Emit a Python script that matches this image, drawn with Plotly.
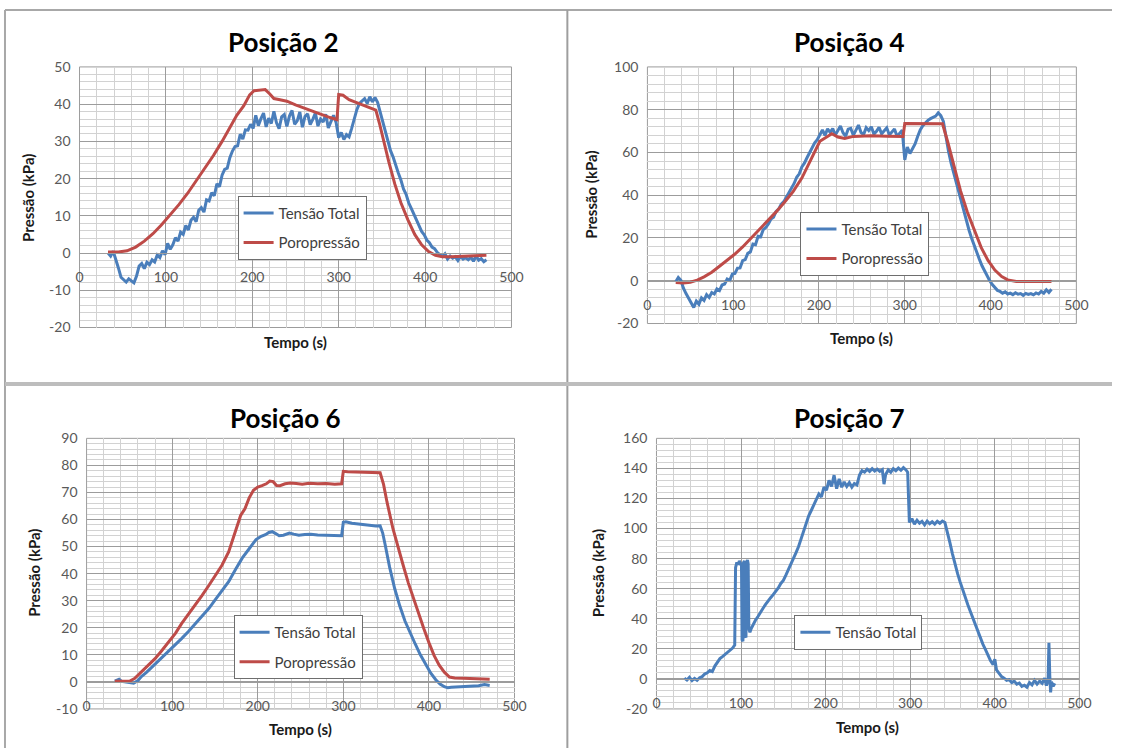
import plotly.graph_objects as go

W, H = 1124, 756
# layout positions below are given in page pixels; they are mapped onto the
# figure through this origin and scale
ORIGIN = 8.0
SCALE = 0.979

FONT = "Lato"
BLUE = "#4A7EBB"
RED = "#BE4B48"
GRID_MAJOR = "#9c9c9c"
GRID_MINOR = "#d2d2d2"
TICK_COLOR = "#595959"
TEXT_COLOR = "#1a1a1a"

TIME_TICKS = [0, 100, 200, 300, 400, 500]
TIME_LABELS = ["0", "100", "200", "300", "400", "500"]
NAME_TOTAL = "Tensão Total"
NAME_PORO = "Poropressão"

# ---------------- Posição 2 ----------------
P2_T0, P2_DT = 33, 3
p2_total = [
    0.0, -0.8, 0.5, -1.5, -4.0, -6.5, -7.2, -7.8, -6.9, -7.5,
    -8.0, -6.2, -3.5, -2.8, -4.2, -2.5, -3.1, -1.8, -2.4, -0.5,
    -1.2, 0.6, -0.4, 2.6, 1.0, 2.2, 4.1, 3.2, 5.6, 5.0,
    7.4, 6.2, 8.8, 9.6, 8.4, 11.5, 12.2, 11.0, 14.3, 14.0,
    16.2, 15.4, 18.6, 17.8, 20.9, 22.5, 22.8, 25.6, 27.4, 28.6,
    28.8, 31.9, 30.6, 33.1, 33.0, 34.6, 33.5, 37.0, 34.2, 36.1,
    37.6, 33.9, 36.2, 34.8, 38.1, 35.0, 33.4, 36.6, 37.2, 34.0,
    36.8, 38.3, 34.6, 35.5, 37.9, 33.8, 36.7, 37.4, 34.5, 35.9,
    37.6, 34.1, 36.0, 35.2, 37.3, 33.6, 35.4, 37.0, 35.1, 31.0,
    32.4, 30.5, 31.8, 31.2, 33.5, 36.0, 38.5, 40.2, 40.8, 41.5,
    40.2, 42.0, 40.6, 41.8, 40.5, 38.0, 35.5, 33.0, 30.2, 27.5,
    25.8, 23.4, 21.5, 19.6, 17.2, 15.8, 13.5, 12.0, 10.4, 8.6,
    7.5, 5.8, 4.9, 3.5, 2.8, 1.6, 1.2, 0.2, -0.4, -0.9,
    -0.2, -1.6, -0.8, -1.4, -1.0, -2.0, -0.9, -1.6, -1.2, -1.8,
    -1.1, -2.2, -0.8, -1.9, -1.5, -2.3, -1.8,
]
p2_poro_t = [
    33, 45, 55, 65, 75, 85, 95, 105, 115, 125,
    135, 145, 155, 165, 175, 182, 190, 197, 202, 208,
    215, 220, 225, 232, 240, 250, 260, 270, 280, 290,
    298, 300, 305, 312, 320, 328, 335, 343, 347, 352,
    358, 365, 372, 380, 388, 396, 404, 412, 420, 430,
    445, 460, 471,
]
p2_poro = [
    0.3, 0.3, 0.6, 1.6, 3.2, 5.2, 7.6, 10.2, 13.0, 16.0,
    19.3, 22.6, 26.2, 30.0, 34.0, 37.0, 39.5, 42.5, 43.6, 43.7,
    43.9, 42.8, 41.5, 41.2, 40.8, 39.8, 38.9, 38.0, 37.2, 36.4,
    35.8, 42.6, 42.4, 41.2, 40.5, 39.8, 39.2, 38.4, 35.0, 30.0,
    24.5, 18.5, 13.5, 9.0, 5.0, 2.2, 0.4, -0.6, -1.0, -1.0,
    -0.8, -0.7, -0.6,
]
P2_YTICKS = [-20, -10, 0, 10, 20, 30, 40, 50]
P2_YLABELS = ["-20", "-10", "0", "10", "20", "30", "40", "50"]

# ---------------- Posição 4 ----------------
P4_T0, P4_DT = 33, 3
p4_total = [
    -0.5, 1.5, 0.2, -3.5, -6.0, -8.2, -10.0, -12.5, -9.5, -11.0,
    -8.0, -9.2, -6.5, -7.8, -5.5, -6.2, -3.8, -4.6, -2.0, -1.5,
    0.8, 0.2, 3.1, 3.4, 5.9, 6.0, 9.4, 9.9, 12.8, 13.5,
    17.2, 16.9, 20.8, 20.6, 23.9, 24.9, 26.6, 28.9, 29.7, 32.4,
    33.5, 35.8, 37.0, 39.1, 41.0, 43.6, 45.5, 48.4, 50.0, 53.2,
    55.0, 57.5, 59.8, 62.5, 64.5, 66.0, 68.5, 70.5, 68.0, 71.0,
    69.4, 71.2, 68.1, 70.0, 72.4, 69.2, 67.6, 70.9, 71.3, 68.0,
    70.6, 72.8, 69.3, 68.4, 71.6, 70.2, 72.0, 68.6, 69.9, 71.8,
    68.7, 70.3, 71.5, 68.2, 69.8, 71.0, 67.5, 69.2, 70.4, 56.5,
    62.5, 59.5, 61.5, 64.0, 67.5, 70.5, 72.5, 74.0, 75.0, 75.8,
    76.5, 77.0, 78.5, 77.2, 74.5, 67.0, 60.5, 55.0, 50.5, 45.0,
    40.5, 36.0, 31.5, 27.5, 23.5, 19.8, 16.2, 13.0, 10.0, 7.0,
    4.5, 2.2, 0.0, -1.8, -3.0, -4.5, -5.0, -5.8, -5.2, -6.2,
    -5.8, -6.5, -5.6, -6.3, -6.0, -6.8, -5.9, -6.4, -6.0, -6.6,
    -5.7, -6.2, -5.0, -5.8, -4.2, -5.5, -4.0,
]
p4_poro_t = [
    33, 42, 50, 58, 66, 75, 84, 93, 102, 111,
    120, 130, 140, 150, 160, 170, 180, 190, 196, 201,
    208, 215, 222, 230, 240, 260, 280, 298, 300, 320,
    344, 350, 357, 365, 373, 381, 389, 397, 405, 413,
    420, 430, 450, 471,
]
p4_poro = [
    -0.8, -1.0, -0.7, 0.3, 1.8, 4.0, 6.8, 9.6, 12.5, 15.8,
    19.5, 23.5, 27.8, 32.2, 36.8, 41.8, 48.0, 56.0, 61.5, 65.2,
    67.0, 68.8, 67.2, 66.5, 67.5, 67.8, 67.6, 67.5, 73.5, 73.5,
    73.4, 65.0, 54.5, 42.0, 32.0, 23.5, 15.6, 9.5, 5.0, 2.0,
    0.4, -0.3, -0.4, -0.4,
]
P4_YTICKS = [-20, 0, 20, 40, 60, 80, 100]
P4_YLABELS = ["-20", "0", "20", "40", "60", "80", "100"]

# ---------------- Posição 6 ----------------
p6_total_t = [
    33, 38, 41, 45, 50, 55, 60, 64, 70, 75,
    80, 88, 96, 104, 111, 119, 127, 135, 143, 150,
    158, 166, 174, 182, 190, 198, 204, 209, 213, 217,
    221, 225, 230, 237, 242, 248, 255, 262, 270, 280,
    290, 298, 300, 303, 310, 320, 330, 338, 343, 346,
    349, 354, 360, 366, 372, 378, 384, 390, 396, 402,
    408, 413, 418, 422, 426, 432, 440, 450, 458, 465,
    471,
]
p6_total = [
    0.3, 1.0, 0.2, 0.0, -0.3, -0.5, 0.5, 2.0, 3.5, 5.0,
    6.5, 8.8, 11.2, 13.6, 16.0, 18.6, 21.4, 24.2, 27.2, 30.2,
    33.4, 37.0, 41.5, 45.8, 49.2, 52.6, 53.8, 54.4, 55.2, 55.5,
    54.8, 54.0, 54.2, 55.0, 54.6, 54.2, 54.5, 54.6, 54.3, 54.2,
    53.9, 54.0, 59.0, 59.2, 58.6, 58.2, 57.9, 57.6, 57.7, 55.0,
    50.5, 42.5, 34.5, 28.0, 22.5, 18.0, 14.0, 10.0, 6.5, 3.3,
    0.8, -0.8, -1.8, -2.2, -2.0, -1.9, -1.8, -1.6, -1.4, -1.0,
    -1.3,
]
p6_poro_t = [
    33, 42, 50, 56, 64, 72, 80, 88, 96, 104,
    111, 119, 127, 135, 143, 150, 158, 166, 172, 176,
    180, 185, 190, 195, 200, 205, 210, 214, 218, 222,
    226, 232, 238, 245, 252, 260, 270, 280, 290, 298,
    300, 305, 315, 325, 335, 343, 347, 351, 358, 364,
    370, 376, 382, 388, 394, 400, 406, 412, 418, 424,
    430, 440, 450, 460, 471,
]
p6_poro = [
    0.2, 0.1, 0.2, 1.2, 3.7, 6.0, 8.6, 11.6, 14.8, 18.0,
    21.5, 24.9, 28.3, 32.0, 35.7, 39.3, 43.0, 48.0, 53.5, 58.0,
    61.5, 64.0, 68.0, 70.8, 72.0, 72.5, 73.2, 74.2, 74.0, 72.6,
    72.5, 73.2, 73.5, 73.3, 73.0, 73.4, 73.2, 73.3, 73.0, 73.2,
    77.8, 77.7, 77.6, 77.5, 77.5, 77.3, 73.0, 66.5, 56.6, 49.5,
    43.0, 36.5, 30.7, 25.0, 19.7, 14.5, 9.8, 6.2, 3.6, 1.8,
    1.4, 1.3, 1.2, 1.1, 1.0,
]
P6_YTICKS = [-10, 0, 10, 20, 30, 40, 50, 60, 70, 80, 90]
P6_YLABELS = ["-10", "0", "10", "20", "30", "40", "50", "60", "70", "80", "90"]

# ---------------- Posição 7 ----------------
p7_total_t = [
    33, 36, 39, 42, 45, 48, 51, 54, 57, 60,
    63, 66, 69, 72, 75, 78, 81, 84, 87, 90,
    92.5, 93.5, 95, 96.5, 98, 99.5, 100.5, 101.2, 102.2, 103,
    104, 104.8, 105.8, 106.6, 107.6, 108.4, 109.2, 110.5, 112, 114,
    117, 120, 123, 126, 129, 132, 135, 138, 141, 144,
    147, 150, 153, 156, 159, 162, 165, 168, 171, 174,
    177, 180, 183, 186, 189, 192, 195, 198, 201, 204,
    207, 210, 213, 216, 219, 222, 225, 228, 231, 234,
    237, 240, 243, 246, 249, 252, 255, 258, 261, 264,
    267, 269, 271, 274, 277, 280, 283, 286, 289, 292,
    295, 297, 299, 302, 305, 308, 311, 314, 317, 320,
    323, 326, 329, 332, 335, 338, 341, 344, 347, 350,
    353, 356, 359, 362, 365, 368, 371, 374, 377, 380,
    383, 386, 389, 392, 395, 398, 400, 402, 405, 408,
    411, 414, 417, 420, 423, 426, 429, 432, 435, 438,
    441, 444, 447, 450, 453, 456, 459, 461, 463, 464,
    465, 466, 467, 469, 471,
]
p7_total = [
    0.5, -0.8, 1.0, -1.2, 0.3, -0.9, 0.8, 1.5, 3.2, 4.0,
    5.5, 4.8, 8.5, 11.0, 13.5, 14.8, 16.2, 17.5, 19.0, 20.5,
    22.5, 74.0, 77.5, 76.0, 78.5, 76.5, 77.0, 26.0, 25.0, 77.5,
    78.5, 28.5, 27.5, 77.5, 79.0, 76.5, 33.5, 31.0, 33.5, 36.0,
    39.0, 41.5, 44.5, 47.0, 49.5, 52.0, 54.0, 56.0, 58.0, 60.5,
    63.5, 65.5, 69.0, 72.5, 77.0, 80.5, 84.0, 88.0, 93.0, 99.0,
    104.0, 108.5, 112.0, 116.0, 119.5, 123.0, 121.0, 127.5, 125.5, 132.0,
    128.0, 135.5, 126.5, 133.0, 127.5, 131.0, 128.0, 130.5, 127.5, 130.0,
    129.0, 135.5, 138.5, 137.5, 139.5, 138.0, 139.8, 138.2, 139.5, 138.0,
    139.2, 129.5, 136.0, 139.0, 137.5, 139.8, 138.5, 140.2, 138.8, 140.5,
    139.0, 137.5, 104.0, 106.5, 103.0, 105.5, 103.5, 104.8, 102.5, 105.0,
    103.2, 104.5, 103.0, 104.8, 103.5, 105.0, 104.0, 98.0, 90.5, 83.0,
    76.0, 70.0, 64.5, 59.0, 54.5, 49.5, 45.0, 40.5, 36.0, 31.5,
    27.0, 23.0, 19.5, 15.5, 12.0, 9.5, 13.0, 6.0, 3.5, 1.5,
    0.5, -1.0, -0.5, -2.5, -1.5, -3.5, -2.8, -5.0, -4.2, -5.5,
    -2.5, -4.0, -1.0, -3.5, -1.5, -3.0, 0.5, -4.5, -1.0, 24.0,
    2.0, -9.0, -2.0, -5.0, -3.0,
]
P7_YTICKS = [-20, 0, 20, 40, 60, 80, 100, 120, 140, 160]
P7_YLABELS = ["-20", "0", "20", "40", "60", "80", "100", "120", "140", "160"]

# Uniformly sampled records: build their time stamps from start and step.
p2_total_t = [P2_T0 + P2_DT * i for i in range(len(p2_total))]
p4_total_t = [P4_T0 + P4_DT * i for i in range(len(p4_total))]


def fx(px):
    """Page x pixel -> paper fraction."""
    return min(max((px - ORIGIN) / SCALE / W, 0.0), 1.0)


def fy(py):
    """Page y pixel -> paper fraction (measured from the bottom)."""
    return min(max(1 - (py - ORIGIN) / SCALE / H, 0.0), 1.0)


panels = [
    dict(title="Posição 2",
         series=[(NAME_TOTAL, p2_total_t, p2_total, BLUE), (NAME_PORO, p2_poro_t, p2_poro, RED)],
         yticks=P2_YTICKS, ylabels=P2_YLABELS, minor=2,
         box=(83, 512, 66, 327), legend_at=(240, 195),
         title_at=(286, 41), xtitle_at=(297.5, 342), ytitle_at=(32, 197)),
    dict(title="Posição 4",
         series=[(NAME_TOTAL, p4_total_t, p4_total, BLUE), (NAME_PORO, p4_poro_t, p4_poro, RED)],
         yticks=P4_YTICKS, ylabels=P4_YLABELS, minor=4,
         box=(647, 1073, 66, 323), legend_at=(799, 211),
         title_at=(848, 41), xtitle_at=(860, 337), ytitle_at=(591, 194)),
    dict(title="Posição 6",
         series=[(NAME_TOTAL, p6_total_t, p6_total, BLUE), (NAME_PORO, p6_poro_t, p6_poro, RED)],
         yticks=P6_YTICKS, ylabels=P6_YLABELS, minor=2,
         box=(90, 515, 438, 709), legend_at=(236, 615),
         title_at=(288, 418), xtitle_at=(302.5, 729), ytitle_at=(37.5, 573)),
    dict(title="Posição 7",
         series=[(NAME_TOTAL, p7_total_t, p7_total, BLUE)],
         yticks=P7_YTICKS, ylabels=P7_YLABELS, minor=4,
         box=(656, 1076, 438, 709), legend_at=(793, 615),
         title_at=(848, 418), xtitle_at=(866, 727), ytitle_at=(598, 573)),
]

fig = go.Figure()
layout = dict(
    width=W, height=H, autosize=False,
    margin=dict(l=0, r=0, t=0, b=0),
    paper_bgcolor="white", plot_bgcolor="white",
    showlegend=True,
    shapes=[], annotations=[],
)

tick_font = dict(family=FONT, size=14, color=TICK_COLOR)

for i, p in enumerate(panels):
    suf = "" if i == 0 else str(i + 1)
    xname, yname, lname = "x" + suf, "y" + suf, "legend" + suf
    x0, x1, y0, y1 = p["box"]
    ydom = [fy(y1), fy(y0)]
    ymin, ymax = p["yticks"][0], p["yticks"][-1]
    zero_pos = ydom[0] + (0 - ymin) / (ymax - ymin) * (ydom[1] - ydom[0])

    for k, (name, t, v, color) in enumerate(p["series"]):
        fig.add_trace(go.Scatter(
            x=t, y=v, mode="lines", name=name,
            line=dict(color=color, width=3),
            xaxis=xname, yaxis=yname, legend=lname,
            legendgroup=f"{lname}-{k}", hoverinfo="skip",
        ))

    # horizontal axis crosses the value axis at zero
    layout["xaxis" + suf] = dict(
        domain=[fx(x0), fx(x1)], range=[0, 500],
        anchor="free", position=zero_pos,
        tickmode="array", tickvals=TIME_TICKS, ticktext=TIME_LABELS,
        showgrid=True, gridcolor=GRID_MAJOR, gridwidth=1,
        minor=dict(tickmode="linear", tick0=0, dtick=20, showgrid=True,
                   gridcolor=GRID_MINOR, gridwidth=1),
        showline=True, linecolor=GRID_MAJOR, linewidth=1,
        zeroline=False, ticks="", ticklabelstandoff=11,
        tickfont=tick_font, fixedrange=True,
    )
    layout["yaxis" + suf] = dict(
        domain=ydom, range=[ymin, ymax], anchor=xname,
        tickmode="array", tickvals=p["yticks"], ticktext=p["ylabels"],
        showgrid=True, gridcolor=GRID_MAJOR, gridwidth=1,
        minor=dict(tickmode="linear", tick0=0, dtick=p["minor"], showgrid=True,
                   gridcolor=GRID_MINOR, gridwidth=1),
        showline=False, zeroline=False, ticks="", ticklabelstandoff=8,
        tickfont=tick_font, fixedrange=True,
    )
    layout["shapes"].append(dict(
        type="rect", xref=xname + " domain", yref=yname + " domain",
        x0=0, x1=1, y0=0, y1=1, line=dict(color=GRID_MAJOR, width=1), layer="below",
    ))

    lx, ly = p["legend_at"]
    layout[lname] = dict(
        x=fx(lx), y=fy(ly), xanchor="left", yanchor="top",
        bgcolor="white", bordercolor="#6e6e6e", borderwidth=1,
        font=dict(family=FONT, size=15, color="#404040"),
        tracegroupgap=7, traceorder="grouped",
    )

    tx, ty = p["title_at"]
    layout["annotations"].append(dict(
        text=f"<b>{p['title']}</b>", x=fx(tx), y=fy(ty), xref="paper", yref="paper",
        showarrow=False, xanchor="center", yanchor="middle",
        font=dict(family=FONT, size=26, color="black"),
    ))
    ax_, ay_ = p["xtitle_at"]
    layout["annotations"].append(dict(
        text="<b>Tempo (s)</b>", x=fx(ax_), y=fy(ay_), xref="paper", yref="paper",
        showarrow=False, xanchor="center", yanchor="middle",
        font=dict(family=FONT, size=15, color=TEXT_COLOR),
    ))
    bx, by = p["ytitle_at"]
    layout["annotations"].append(dict(
        text="<b>Pressão (kPa)</b>", x=fx(bx), y=fy(by), xref="paper", yref="paper",
        showarrow=False, xanchor="center", yanchor="middle", textangle=-90,
        font=dict(family=FONT, size=15, color=TEXT_COLOR),
    ))

# frame lines separating the four charts
top = 1 - 1.0 / H
left = 1.0 / W
frame = [
    (left, top, 1, top, "#a8a8a8", 2),
    (left, top, left, 0, "#a8a8a8", 2),
    (fx(567.5), top, fx(567.5), 0, "#9e9e9e", 2),
    (left, fy(383.5), 1, fy(383.5), "#bdbdbd", 4),
]
for xa, ya, xb, yb, c, w in frame:
    layout["shapes"].append(dict(
        type="line", xref="paper", yref="paper", x0=xa, y0=ya, x1=xb, y1=yb,
        line=dict(color=c, width=w),
    ))

fig.update_layout(**layout)
fig.write_html("out.html")
